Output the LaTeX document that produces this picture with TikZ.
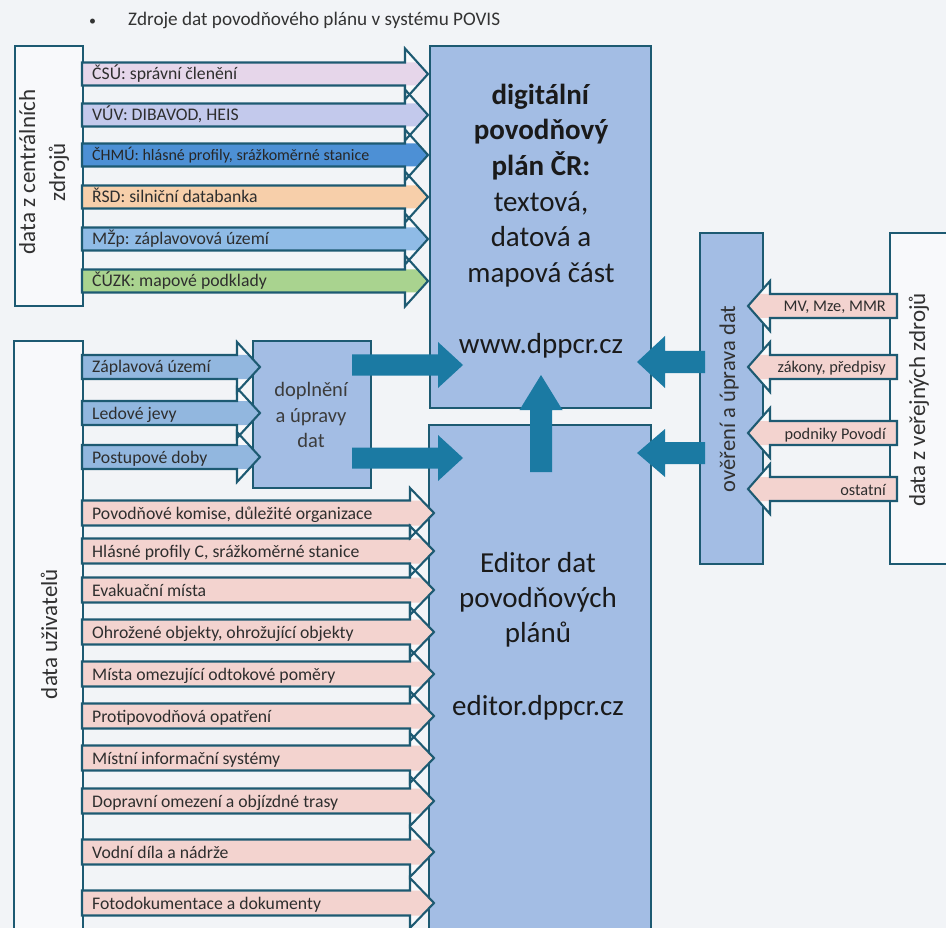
\documentclass[tikz,border=0pt]{standalone}
\usepackage{fontspec}
\setmainfont{Carlito}
\definecolor{pagebg}{HTML}{F2F4F7}
\definecolor{boxw}{HTML}{F8F9FB}
\definecolor{arrw}{HTML}{F8F9FB}
\definecolor{outl}{HTML}{1D5A72}
\definecolor{boxblue}{HTML}{A3BDE4}
\definecolor{fatc}{HTML}{1B7AA3}
\definecolor{pinkc}{HTML}{F3D3CF}
\definecolor{bluec}{HTML}{92B7DF}
\definecolor{csu}{HTML}{E6D6EA}
\definecolor{vuv}{HTML}{C3C9EC}
\definecolor{chmu}{HTML}{4D90D5}
\definecolor{rsd}{HTML}{F7CFAA}
\definecolor{mzp}{HTML}{8FBBE6}
\definecolor{cuzk}{HTML}{A9D38F}
\definecolor{labtxt}{HTML}{2E2E2E}
\definecolor{bigtxt}{HTML}{1A1A1A}
\definecolor{headtxt}{HTML}{333333}
\newcommand{\ArrFill}[7]{%
  \fill[arrw] (#1,{#4-#5}) -- (#2,{#4-#5}) -- (#2,{#4-#6}) -- (#3,#4) -- (#2,{#4+#6}) -- (#2,{#4+#5}) -- (#1,{#4+#5}) -- cycle;
  \fill[#7] (#1,{#4-#5}) -- ({#2+(#3-#2)*(1-#5/#6)},{#4-#5}) -- (#3,#4) -- ({#2+(#3-#2)*(1-#5/#6)},{#4+#5}) -- (#1,{#4+#5}) -- cycle;}
\newcommand{\ArrLine}[6]{%
  \draw[arrline] (#1,{#4-#5}) -- (#2,{#4-#5}) -- (#2,{#4-#6}) -- (#3,#4) -- (#2,{#4+#6}) -- (#2,{#4+#5}) -- (#1,{#4+#5}) -- cycle;}
\newcommand{\FatArr}[6]{%
  \fill[fatc] (#1,{#4-#5}) -- (#2,{#4-#5}) -- (#2,{#4-#6}) -- (#3,#4) -- (#2,{#4+#6}) -- (#2,{#4+#5}) -- (#1,{#4+#5}) -- cycle;}
\begin{document}
\begin{tikzpicture}[x=1pt,y=-1pt,
  wbox/.style={draw=outl, line width=2.4pt, fill=boxw, inner sep=0pt, anchor=north west},
  bbox/.style={draw=outl, line width=2.4pt, fill=boxblue, inner sep=0pt, anchor=north west},
  arrline/.style={draw=outl, line width=2.1pt, line join=miter},
  lab/.style={anchor=base west, text=labtxt, inner sep=0pt, font=\fontsize{17.7}{20}\selectfont},
  rlab/.style={anchor=base east, text=labtxt, inner sep=0pt, font=\fontsize{16.3}{19}\selectfont},
  big/.style={text=bigtxt, align=center, inner sep=0pt},
  vtext/.style={text=bigtxt!90!white, rotate=90, align=center, inner sep=0pt}]
\useasboundingbox (0,0) rectangle (946,928);
\clip (0,0) rectangle (946,928);
\fill[pagebg] (0,0) rectangle (946,928);

% heading
\node[anchor=base west, text=headtxt, inner sep=0pt, font=\fontsize{14}{16}\selectfont] (bul) at (89,26) {•};
\node[anchor=base west, text=headtxt, inner sep=0pt, font=\fontsize{19.2}{21}\selectfont] (head) at (128,26) {Zdroje dat povodňového plánu v systému POVIS};

% boxes
\node[wbox, minimum width=68pt, minimum height=260pt] (central) at (14,45) {};
\node[wbox, minimum width=69pt, minimum height=640pt] (users) at (13,340) {};
\node[bbox, minimum width=221pt, minimum height=362pt] (dpp) at (429,45) {};
\node[bbox, minimum width=222pt, minimum height=560pt] (editor) at (428,424) {};
\node[bbox, minimum width=118pt, minimum height=147pt] (dopl) at (252,340) {};
\node[bbox, minimum width=63pt, minimum height=331pt] (over) at (699,232) {};
\node[wbox, minimum width=120pt, minimum height=331pt] (public) at (889,232) {};

% fills: central sources
\foreach \c/\col in {74/csu,115/vuv,155/chmu,197/rsd,239/mzp,281/cuzk}
  {\ArrFill{82}{405}{428}{\c}{11.5}{25.5}{\col}}
% fills: into doplneni
\foreach \c in {367,413,457}
  {\ArrFill{82}{237}{260}{\c}{12}{25}{bluec}}
% fills: into editor
\foreach \c in {513,551,590,632,674,716,758,801,852,903}
  {\ArrFill{82}{410}{434}{\c}{12.5}{25}{pinkc}}
% fills: public sources
\foreach \c in {306,367,433,489}
  {\ArrFill{897}{770}{748}{\c}{12}{25}{pinkc}}

% outlines
\foreach \c in {74,115,155,197,239,281}
  {\ArrLine{82}{405}{428}{\c}{11.5}{25.5}}
\foreach \c in {367,413,457}
  {\ArrLine{82}{237}{260}{\c}{12}{25}}
\foreach \c in {513,551,590,632,674,716,758,801,852,903}
  {\ArrLine{82}{410}{434}{\c}{12.5}{25}}
\foreach \c in {306,367,433,489}
  {\ArrLine{897}{770}{748}{\c}{12}{25}}

% fat arrows
\FatArr{352}{438}{463}{365}{10.5}{23}
\FatArr{352}{438}{463}{458}{10.5}{23}
\FatArr{705}{665}{637}{362}{11}{26}
\FatArr{705}{665}{637}{453}{11}{24}
\fill[fatc] (530,472) -- (530,410) -- (519.5,410) -- (541,375) -- (562.5,410) -- (552,410) -- (552,472) -- cycle;

% labels central
\node[lab] (l1) at (92,80) {ČSÚ: správní členění};
\node[lab] (l2) at (92,121) {VÚV: DIBAVOD, HEIS};
\node[lab, font=\fontsize{16}{18}\selectfont, text=black!85] (l3) at (92,161) {ČHMÚ: hlásné profily, srážkoměrné stanice};
\node[lab] (l4) at (92,203) {ŘSD: silniční databanka};
\node[lab] (l5) at (92,245) {MŽp: záplavovová území};
\node[lab] (l6) at (92,287) {ČÚZK: mapové podklady};
% labels into doplneni
\node[lab] (d1) at (92,373) {Záplavová území};
\node[lab] (d2) at (92,419) {Ledové jevy};
\node[lab] (d3) at (92,463) {Postupové doby};
% labels into editor
\node[lab] (e1) at (92,519) {Povodňové komise, důležité organizace};
\node[lab] (e2) at (92,557) {Hlásné profily C, srážkoměrné stanice};
\node[lab] (e3) at (92,596) {Evakuační místa};
\node[lab] (e4) at (92,638) {Ohrožené objekty, ohrožující objekty};
\node[lab] (e5) at (92,680) {Místa omezující odtokové poměry};
\node[lab] (e6) at (92,722) {Protipovodňová opatření};
\node[lab] (e7) at (92,764) {Místní informační systémy};
\node[lab] (e8) at (92,807) {Dopravní omezení a objízdné trasy};
\node[lab] (e9) at (92,858) {Vodní díla a nádrže};
\node[lab] (e10) at (92,909) {Fotodokumentace a dokumenty};
% labels public
\node[rlab] (p1) at (886,312) {MV, Mze, MMR};
\node[rlab] (p2) at (886,373) {zákony, předpisy};
\node[rlab] (p3) at (886,439) {podniky Povodí};
\node[rlab] (p4) at (886,495) {ostatní};

% big texts
\node[big, font=\fontsize{29}{35.6}\selectfont] (dpptext) at (541,221)
  {\textbf{digitální}\\\textbf{povodňový}\\\textbf{plán ČR:}\\textová,\\datová a\\mapová část\\[35.6pt]www.dppcr.cz};
\node[big, font=\fontsize{29}{35}\selectfont] (edtext) at (538,636)
  {Editor dat\\povodňových\\plánů\\[38pt]editor.dppcr.cz};
\node[big, font=\fontsize{20.5}{25.5}\selectfont, text=bigtxt!85!white] (dopltext) at (311,415)
  {doplnění\\a úpravy\\dat};
% rotated texts
\node[vtext, font=\fontsize{23}{30}\selectfont] (centraltext) at (44,172) {data z centrálních\\zdrojů};
\node[vtext, font=\fontsize{23}{28}\selectfont] (userstext) at (49,634) {data uživatelů};
\node[vtext, font=\fontsize{22.5}{28}\selectfont] (overtext) at (729,399) {ověření a úprava dat};
\node[vtext, font=\fontsize{23}{28}\selectfont] (publictext) at (919,400) {data z veřejných zdrojů};
\end{tikzpicture}
\end{document}
